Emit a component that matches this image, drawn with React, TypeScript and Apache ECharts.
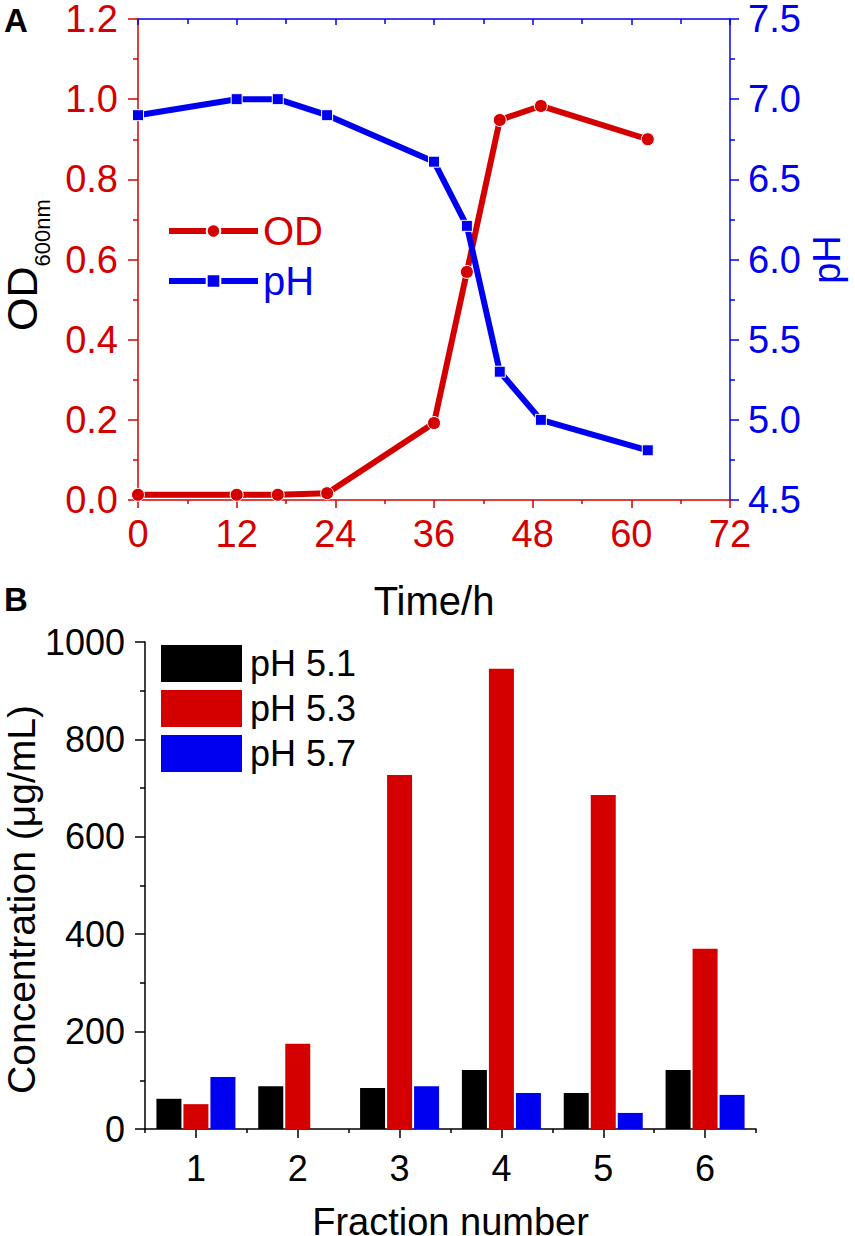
import React, { useEffect, useRef } from "react";
import * as echarts from "echarts";

// ---- Panel A data ----
const timeHours = [0, 12, 17, 23, 36, 40, 44, 49, 62];
const odValues = [0.013, 0.013, 0.013, 0.017, 0.192, 0.569, 0.948, 0.983, 0.9];
const phValues = [6.9, 7.0, 7.0, 6.9, 6.61, 6.21, 5.3, 5.0, 4.81];

// ---- Panel B data ----
const fractions = ["1", "2", "3", "4", "5", "6"];
const ph51 = [62, 88, 84, 121, 74, 121];
const ph53 = [51, 175, 727, 945, 686, 370];
const ph57 = [107, null, 88, 74, 33, 70];

const RED = "#d40000";
const BLUE = "#0000f0";
const BLACK = "#000000";
const FONT = "'Liberation Sans', Arial, Helvetica, sans-serif";

function buildOption() {
  const tickStyle = (c: string) => ({ color: c, width: 1.5 });
  return {
    animation: false,
    backgroundColor: "#ffffff",
    textStyle: { fontFamily: FONT },
    grid: [
      { left: 138, top: 19, width: 592, height: 481, outerBoundsMode: "none", containLabel: false },
      { left: 145, top: 642, width: 611, height: 487, outerBoundsMode: "none", containLabel: false },
    ],
    legend: [
      {
        selectedMode: false,
        orient: "vertical",
        left: 161,
        top: 206,
        itemWidth: 89,
        itemHeight: 17,
        itemGap: 10,
        lineStyle: { width: 6 },
        textStyle: { fontSize: 40, fontFamily: FONT },
        data: [
          { name: "OD", textStyle: { color: RED } },
          { name: "pH", textStyle: { color: BLUE } },
        ],
      },
      {
        selectedMode: false,
        orient: "vertical",
        left: 156,
        top: 640,
        itemWidth: 81,
        itemHeight: 37,
        itemGap: 8,
        icon: "rect",
        itemStyle: { borderWidth: 0 },
        textStyle: { fontSize: 36, lineHeight: 37, color: BLACK, fontFamily: FONT, padding: [0, 0, 0, 3] },
        data: ["pH 5.1", "pH 5.3", "pH 5.7"],
      },
    ],
    xAxis: [
      {
        type: "value",
        gridIndex: 0,
        position: "bottom",
        min: 0,
        max: 72,
        interval: 12,
        axisLine: { show: true, onZero: false, lineStyle: tickStyle(RED) },
        axisTick: { show: true, length: 8, lineStyle: tickStyle(RED) },
        minorTick: { show: true, splitNumber: 2, length: 4, lineStyle: tickStyle(RED) },
        splitLine: { show: false },
        axisLabel: { color: RED, fontSize: 38, margin: 15, fontFamily: FONT },
        name: "Time/h",
        nameLocation: "middle",
        nameGap: 81,
        nameMoveOverlap: false,
        nameTextStyle: { color: BLACK, fontSize: 40, fontFamily: FONT },
      },
      {
        type: "value",
        gridIndex: 0,
        position: "top",
        min: 0,
        max: 72,
        interval: 12,
        axisLine: { show: true, onZero: false, lineStyle: tickStyle(BLUE) },
        axisTick: { show: true, inside: true, length: 6, lineStyle: tickStyle(BLUE) },
        minorTick: { show: true, splitNumber: 2, length: 5, lineStyle: tickStyle(BLUE) },
        splitLine: { show: false },
        axisLabel: { show: false },
      },
      {
        type: "category",
        gridIndex: 1,
        position: "bottom",
        data: fractions,
        axisLine: { show: true, onZero: false, lineStyle: tickStyle(BLACK) },
        axisTick: { show: true, alignWithLabel: true, length: 9, lineStyle: tickStyle(BLACK) },
        axisLabel: { color: BLACK, fontSize: 36, margin: 21, fontFamily: FONT },
        splitLine: { show: false },
        name: "Fraction number",
        nameLocation: "middle",
        nameGap: 74,
        nameMoveOverlap: false,
        nameTextStyle: { color: BLACK, fontSize: 38, fontFamily: FONT },
      },
      {
        type: "category",
        gridIndex: 1,
        position: "bottom",
        data: fractions,
        axisLine: { show: false },
        axisTick: { show: true, length: 4, lineStyle: tickStyle(BLACK) },
        axisLabel: { show: false },
        splitLine: { show: false },
      },
    ],
    yAxis: [
      {
        type: "value",
        gridIndex: 0,
        position: "left",
        min: 0,
        max: 1.2,
        interval: 0.2,
        axisLine: { show: true, onZero: false, lineStyle: tickStyle(RED) },
        axisTick: { show: true, length: 10, lineStyle: tickStyle(RED) },
        minorTick: { show: true, splitNumber: 2, length: 5, lineStyle: tickStyle(RED) },
        splitLine: { show: false },
        axisLabel: {
          color: RED,
          fontSize: 38,
          margin: 20,
          fontFamily: FONT,
          formatter: (v: number) => v.toFixed(1),
        },
        name: "{a|OD}{b|600nm}",
        nameLocation: "middle",
        nameGap: 95,
        nameRotate: 90,
        nameMoveOverlap: false,
        nameTextStyle: {
          color: BLACK,
          fontFamily: FONT,
          padding: [0, 11, 0, 0],
          rich: {
            a: { fontSize: 43, lineHeight: 43, verticalAlign: "top", color: BLACK, fontFamily: FONT },
            b: {
              fontSize: 22,
              lineHeight: 22,
              verticalAlign: "top",
              padding: [31, 0, 0, 0],
              color: BLACK,
              fontFamily: FONT,
            },
          },
        },
      },
      {
        type: "value",
        gridIndex: 0,
        position: "right",
        min: 4.5,
        max: 7.5,
        interval: 0.5,
        axisLine: { show: true, onZero: false, lineStyle: tickStyle(BLUE) },
        axisTick: { show: true, length: 9, lineStyle: tickStyle(BLUE) },
        minorTick: { show: true, splitNumber: 2, length: 5, lineStyle: tickStyle(BLUE) },
        splitLine: { show: false },
        axisLabel: {
          color: BLUE,
          fontSize: 38,
          margin: 18,
          fontFamily: FONT,
          formatter: (v: number) => v.toFixed(1),
        },
        name: "pH",
        nameLocation: "middle",
        nameGap: 78,
        nameRotate: 90,
        nameMoveOverlap: false,
        nameTextStyle: { color: BLUE, fontSize: 38, fontFamily: FONT },
      },
      {
        type: "value",
        gridIndex: 1,
        position: "left",
        min: 0,
        max: 1000,
        interval: 200,
        axisLine: { show: true, onZero: false, lineStyle: tickStyle(BLACK) },
        axisTick: { show: true, length: 10, lineStyle: tickStyle(BLACK) },
        minorTick: { show: true, splitNumber: 2, length: 5, lineStyle: tickStyle(BLACK) },
        splitLine: { show: false },
        axisLabel: {
          color: BLACK,
          fontSize: 36,
          margin: 20,
          fontFamily: FONT,
          formatter: (v: number) => String(v),
        },
        name: "Concentration (μg/mL)",
        nameLocation: "middle",
        nameGap: 104,
        nameRotate: 90,
        nameMoveOverlap: false,
        nameTextStyle: { color: BLACK, fontSize: 39, fontFamily: FONT, padding: [0, 28, 0, 0] },
      },
    ],
    series: [
      {
        name: "OD",
        type: "line",
        xAxisIndex: 0,
        yAxisIndex: 0,
        data: timeHours.map((t, i) => [t, odValues[i]]),
        symbol: "circle",
        symbolSize: 13,
        lineStyle: { color: RED, width: 6 },
        itemStyle: { color: RED, borderColor: "#ffffff", borderWidth: 1 },
        z: 3,
      },
      {
        name: "pH",
        type: "line",
        xAxisIndex: 0,
        yAxisIndex: 1,
        data: timeHours.map((t, i) => [t, phValues[i]]),
        symbol: "rect",
        symbolSize: 11,
        lineStyle: { color: BLUE, width: 6 },
        itemStyle: { color: BLUE, borderColor: "#ffffff", borderWidth: 1 },
        z: 4,
      },
      {
        name: "pH 5.1",
        type: "bar",
        xAxisIndex: 2,
        yAxisIndex: 2,
        data: ph51,
        barWidth: 25,
        barGap: "8%",
        itemStyle: { color: BLACK },
      },
      {
        name: "pH 5.3",
        type: "bar",
        xAxisIndex: 2,
        yAxisIndex: 2,
        data: ph53,
        barWidth: 25,
        barGap: "8%",
        itemStyle: { color: RED },
      },
      {
        name: "pH 5.7",
        type: "bar",
        xAxisIndex: 2,
        yAxisIndex: 2,
        data: ph57,
        barWidth: 25,
        barGap: "8%",
        itemStyle: { color: BLUE },
      },
    ],
    graphic: [
      {
        type: "text",
        x: 4,
        y: 4,
        style: { text: "A", fontSize: 33, fontWeight: "bold", fontFamily: "Liberation Sans", fill: BLACK },
      },
      {
        type: "text",
        x: 4,
        y: 583,
        style: { text: "B", fontSize: 33, fontWeight: "bold", fontFamily: "Liberation Sans", fill: BLACK },
      },
    ],
  };
}

export default function App() {
  const ref = useRef<HTMLDivElement>(null);
  useEffect(() => {
    if (!ref.current) return;
    const chart = echarts.init(ref.current, undefined, { renderer: "svg" });
    chart.setOption(buildOption() as any);
    return () => chart.dispose();
  }, []);
  return (
    <div
      ref={ref}
      style={{ position: "absolute", left: 0, top: 0, width: 855, height: 1236, background: "#fff" }}
    />
  );
}
